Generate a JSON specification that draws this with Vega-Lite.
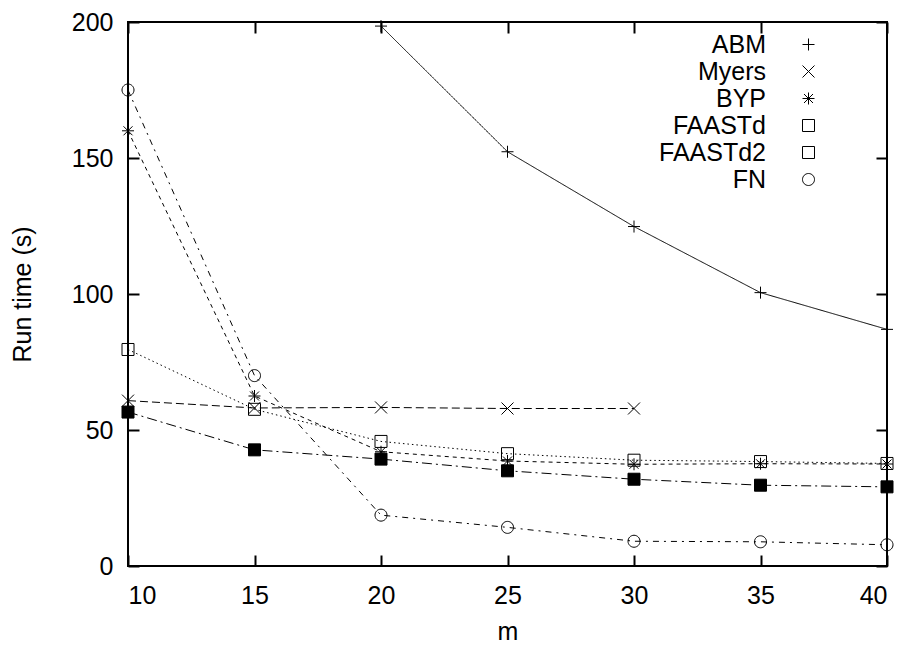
{
  "$schema": "https://vega.github.io/schema/vega-lite/v6.json",
  "autosize": {"type": "none"},
  "width": 759,
  "height": 544,
  "padding": {"left": 128, "top": 22, "right": 22, "bottom": 80},
  "background": "white",
  "config": {
    "view": {"stroke": "black", "strokeWidth": 2},
    "font": "Liberation Sans",
    "axis": {
      "labelFont": "Liberation Sans", "labelFontSize": 25, "labelColor": "black",
      "titleFont": "Liberation Sans", "titleFontSize": 25, "titleFontWeight": "normal", "titleColor": "black",
      "domain": false, "grid": false, "tickSize": -11, "tickWidth": 2, "tickColor": "black"
    }
  },
  "data": {"values": [
    {"series": "ABM", "m": 20, "t": 198.5},
    {"series": "ABM", "m": 25, "t": 152.3},
    {"series": "ABM", "m": 30, "t": 124.8},
    {"series": "ABM", "m": 35, "t": 100.5},
    {"series": "ABM", "m": 40, "t": 87},
    {"series": "Myers", "m": 10, "t": 60.8},
    {"series": "Myers", "m": 15, "t": 58.1},
    {"series": "Myers", "m": 20, "t": 58.3},
    {"series": "Myers", "m": 25, "t": 57.9},
    {"series": "Myers", "m": 30, "t": 57.9},
    {"series": "BYP", "m": 10, "t": 160},
    {"series": "BYP", "m": 15, "t": 62.5},
    {"series": "BYP", "m": 20, "t": 42},
    {"series": "BYP", "m": 25, "t": 38.6},
    {"series": "BYP", "m": 30, "t": 37.4},
    {"series": "BYP", "m": 35, "t": 37.6},
    {"series": "BYP", "m": 40, "t": 37.5},
    {"series": "FAASTd", "m": 10, "t": 79.6},
    {"series": "FAASTd", "m": 15, "t": 57.6},
    {"series": "FAASTd", "m": 20, "t": 45.8},
    {"series": "FAASTd", "m": 25, "t": 41.3},
    {"series": "FAASTd", "m": 30, "t": 38.9},
    {"series": "FAASTd", "m": 35, "t": 38.4},
    {"series": "FAASTd", "m": 40, "t": 37.7},
    {"series": "FAASTd2", "m": 10, "t": 56.6},
    {"series": "FAASTd2", "m": 15, "t": 42.7},
    {"series": "FAASTd2", "m": 20, "t": 39.3},
    {"series": "FAASTd2", "m": 25, "t": 35},
    {"series": "FAASTd2", "m": 30, "t": 31.9},
    {"series": "FAASTd2", "m": 35, "t": 29.7},
    {"series": "FAASTd2", "m": 40, "t": 29.1},
    {"series": "FN", "m": 10, "t": 175},
    {"series": "FN", "m": 15, "t": 70},
    {"series": "FN", "m": 20, "t": 18.7},
    {"series": "FN", "m": 25, "t": 14.2},
    {"series": "FN", "m": 30, "t": 9.1},
    {"series": "FN", "m": 35, "t": 8.9},
    {"series": "FN", "m": 40, "t": 7.8}
  ]},
  "resolve": {"axis": {"x": "independent", "y": "independent"}},
  "layer": [
    {
      "mark": {"type": "line", "stroke": "black", "strokeWidth": 1},
      "encoding": {
        "x": {"field": "m", "type": "quantitative",
              "scale": {"domain": [10, 40], "nice": false, "zero": false},
              "axis": {"orient": "bottom", "values": [10, 15, 20, 25, 30, 35, 40], "labelPadding": 28, "title": "m", "titlePadding": 11}},
        "y": {"field": "t", "type": "quantitative",
              "scale": {"domain": [0, 200], "nice": false},
              "axis": {"orient": "left", "values": [0, 50, 100, 150, 200], "labelPadding": 26, "title": "Run time (s)", "titlePadding": 36}},
        "detail": {"field": "series", "type": "nominal"},
        "strokeDash": {"condition": [
            {"test": "datum.series === 'Myers'", "value": [8, 4]},
            {"test": "datum.series === 'BYP'", "value": [4, 4]},
            {"test": "datum.series === 'FAASTd'", "value": [1.5, 3]},
            {"test": "datum.series === 'FAASTd2'", "value": [10, 4, 2, 4]},
            {"test": "datum.series === 'FN'", "value": [6, 5, 2, 5]}
          ], "value": [1, 0]}
      }
    },
    {
      "mark": {"type": "point", "stroke": "black", "strokeWidth": 1, "opacity": 1, "size": 144},
      "encoding": {
        "x": {"field": "m", "type": "quantitative",
              "axis": {"orient": "top", "values": [10, 15, 20, 25, 30, 35, 40], "labels": false, "title": null}},
        "y": {"field": "t", "type": "quantitative",
              "axis": {"orient": "right", "values": [0, 50, 100, 150, 200], "labels": false, "title": null}},
        "fill": {"condition": {"test": "datum.series === 'FAASTd2'", "value": "black"}, "value": "transparent"},
        "shape": {"field": "series", "type": "nominal",
              "scale": {"domain": ["ABM", "Myers", "BYP", "FAASTd", "FAASTd2", "FN"],
                        "range": ["M-1,0H1M0,-1V1", "M-1,-1L1,1M-1,1L1,-1", "M-1,0H1M0,-1V1M-0.75,-0.75L0.75,0.75M-0.75,0.75L0.75,-0.75", "M-1,-1H1V1H-1Z", "M-1,-1H1V1H-1Z", "M1,0A1,1,0,1,1,-1,0A1,1,0,1,1,1,0Z"]},
              "legend": {
                "title": null, "orient": "none", "legendX": 668, "legendY": 10, "padding": 0,
                "labelFont": "Liberation Sans", "labelFontSize": 25, "labelColor": "black",
                "labelAlign": "right", "labelOffset": -55, "symbolSize": 144, "rowPadding": 1,
                "symbolStrokeWidth": 1, "symbolStrokeColor": "black"
              }}
      }
    }
  ]
}
